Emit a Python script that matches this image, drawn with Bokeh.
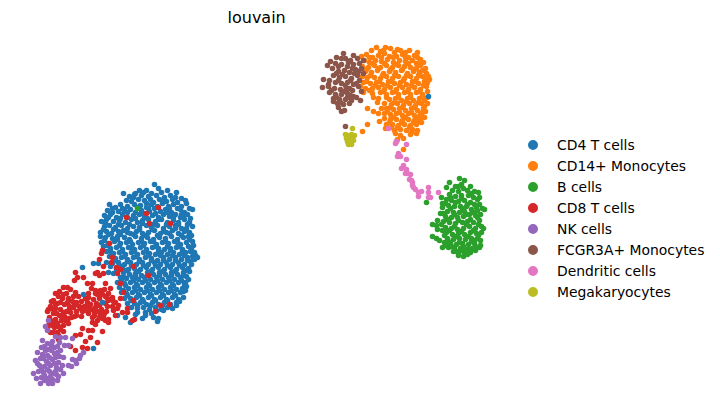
from bokeh.embed import file_html
from bokeh.resources import INLINE
from bokeh.plotting import figure
from bokeh.models import Range1d, Legend, LegendItem

# Values, in the embedding's own units (reference pixels).
categories = ["CD4 T cells", "CD14+ Monocytes", "B cells", "CD8 T cells", "NK cells",
              "FCGR3A+ Monocytes", "Dendritic cells", "Megakaryocytes"]
colors = ["#1f77b4", "#ff7f0e", "#2ca02c", "#d62728", "#9467bd", "#8c564b", "#e377c2", "#bcbd22"]

cd4 = [(135,193),(139,190),(146,190),(154,184),(158,188),(167,190),(151,193),(161,192),(143,192),
(123,193),(129,196),(134,194),(141,195),(148,196),(156,195),(164,197),(170,195),(176,192),(181,198),(172,199),
(126,200),(131,201),(138,199),(144,200),(150,199),(153,202),(159,199),(166,201),(177,202),(185,200),
(109,204),(115,207),(120,204),(127,206),(134,204),(140,205),(146,207),(151,204),(157,206),(162,203),(168,206),(173,204),(181,206),(186,203),
(107,210),(112,208),(118,211),(124,210),(130,209),(135,212),(141,210),(149,211),(154,208),(160,211),(165,209),(171,212),(177,208),(184,212),(189,208),(192,209),
(104,215),(110,214),(116,217),(122,214),(127,217),(133,215),(139,214),(144,217),(152,215),(158,217),(163,214),(169,216),(175,214),(180,217),(187,214),
(101,221),(106,219),(113,221),(119,220),(125,222),(131,219),(137,222),(142,220),(148,219),(155,221),(161,219),(167,222),(173,220),(178,222),(184,219),(190,218),
(104,226),(109,225),(115,227),(121,225),(127,228),(133,226),(139,227),(146,225),(151,227),(157,225),(163,228),(169,226),(175,225),(181,228),(187,224),(192,226),
(100,232),(106,231),(111,233),(118,231),(123,230),(130,233),(136,231),(142,233),(148,232),(154,230),(160,233),(166,232),(172,230),(178,233),(184,231),(189,232),
(100,236),(105,237),(112,238),(117,236),(124,237),(129,239),(135,236),(141,238),(147,237),(153,239),(159,237),(165,238),(171,236),(177,239),(183,237),(188,236),
(101,242),(108,243),(114,241),(120,243),(126,242),(132,244),(138,242),(144,243),(150,241),(156,244),(162,242),(168,243),(174,241),(180,244),(186,242),(192,241),
(103,246),(110,248),(116,247),(122,249),(128,247),(134,249),(140,247),(146,249),(152,247),(158,248),(164,249),(170,248),(176,247),(182,249),(188,246),(193,245),
(106,251),(113,253),(119,252),(125,254),(131,252),(137,254),(143,252),(149,253),(155,254),(161,252),(167,254),(173,252),(179,254),(185,252),(190,251),
(109,256),(115,258),(121,257),(127,259),(133,257),(139,259),(145,257),(151,258),(157,260),(163,257),(169,259),(175,257),(181,259),(187,257),(192,256),(197,257),
(93,263),(98,263),(106,262),(112,263),(118,262),(124,264),(130,262),(136,264),(142,262),(148,264),(154,262),(160,264),(166,262),(172,264),(178,262),(184,264),(190,261),(194,259),
(110,266),(116,268),(122,267),(128,269),(134,268),(140,269),(146,267),(152,269),(158,267),(164,269),(170,267),(176,269),(182,267),(188,268),(191,264),
(108,272),(113,273),(123,272),(129,274),(135,273),(141,275),(147,272),(153,274),(159,272),(165,274),(171,272),(177,274),(183,272),(189,271),
(120,277),(126,278),(132,277),(138,279),(144,277),(150,279),(156,277),(162,279),(168,277),(174,279),(180,277),(186,276),
(117,282),(124,283),(130,282),(136,284),(142,282),(148,284),(154,282),(160,284),(166,282),(172,284),(178,282),(184,284),(188,279),
(119,287),(128,288),(134,287),(140,289),(146,287),(152,289),(158,287),(164,289),(170,287),(176,289),(182,288),(186,286),
(121,292),(126,293),(132,292),(138,294),(144,292),(150,294),(156,292),(162,294),(168,292),(174,294),(180,292),(185,290),
(124,298),(130,298),(136,297),(142,299),(148,297),(154,299),(160,297),(166,299),(172,297),(178,299),(183,297),
(127,303),(134,303),(140,302),(146,304),(152,302),(158,304),(164,302),(170,304),(176,302),
(131,307),(137,308),(143,307),(149,309),(155,307),(161,309),(167,307),(172,308),(176,305),
(137,312),(145,312),(151,313),(156,310),(163,310),
(117,315),(125,317),(130,322),(135,314),(142,318),(145,315),(153,317),(157,321),(158,318)]

cd4_dense = [(133,197),(146,203),(163,200),(175,197),(122,208),(137,207),(148,208),(169,208),(180,209),
(112,212),(127,212),(143,213),(155,213),(167,212),(181,214),(108,217),(120,218),(135,218),(147,218),(159,219),(173,217),(183,217),
(105,223),(118,224),(129,224),(142,223),(153,224),(166,224),(178,224),(189,222),
(103,229),(113,229),(127,232),(139,229),(152,229),(163,231),(175,228),(186,228),
(108,234),(120,234),(133,234),(145,235),(157,235),(169,233),(181,235),(191,235),
(104,240),(117,239),(130,241),(141,241),(153,241),(165,241),(177,242),(189,239),
(107,245),(119,245),(131,247),(143,245),(155,246),(167,246),(179,246),(191,249),
(110,251),(122,251),(134,251),(146,251),(158,251),(170,250),(182,251),(194,252),
(112,255),(124,256),(136,256),(148,255),(160,255),(172,255),(184,255),(195,255),
(115,260),(127,261),(139,261),(151,260),(163,260),(175,260),(187,260),
(119,265),(131,265),(143,265),(155,265),(167,265),(179,265),
(116,271),(126,270),(138,271),(150,271),(162,271),(174,271),(186,270),
(123,276),(135,276),(147,275),(159,275),(171,275),(183,275),
(121,280),(133,280),(145,280),(157,280),(169,280),(181,280),
(125,285),(137,285),(149,285),(161,285),(173,285),(185,282),
(123,290),(135,290),(147,290),(159,290),(171,290),(183,291),
(127,295),(139,295),(151,295),(163,295),(175,295),
(131,300),(143,301),(155,300),(167,300),(179,301),(137,305),(150,305),(162,305)]

cd14 = [(385,47),(390,48),(371,50),(380,51),(394,52),(397,49),(405,52),(409,50),(376,47),
(361,56),(366,54),(372,57),(378,55),(384,53),(389,56),(396,56),(402,54),(408,57),(414,55),(420,59),(417,52),
(364,60),(369,62),(375,60),(381,61),(387,59),(393,62),(399,60),(405,61),(412,60),(416,63),(423,62),
(362,66),(368,67),(374,65),(380,67),(386,65),(392,67),(398,65),(404,66),(410,67),(416,68),(425,68),(420,65),
(365,71),(371,72),(377,70),(383,73),(389,71),(395,72),(401,70),(407,73),(413,71),(419,72),(426,73),
(362,76),(367,77),(374,77),(380,78),(386,76),(392,78),(398,76),(404,78),(410,76),(416,78),(422,76),(428,76),
(363,82),(370,83),(376,82),(382,84),(388,81),(394,83),(400,82),(406,84),(412,81),(418,83),(424,81),(429,79),
(360,86),(365,88),(372,88),(378,87),(384,89),(390,87),(396,89),(402,87),(408,89),(414,87),(420,89),(426,86),
(363,92),(372,93),(380,92),(386,94),(392,92),(398,94),(404,92),(410,94),(416,92),(422,94),(427,91),
(373,97),(378,98),(389,99),(395,98),(401,100),(407,98),(413,100),(419,98),(424,100),(427,97),
(377,102),(384,103),(391,104),(397,103),(403,105),(409,103),(415,105),(421,103),(427,103),
(367,108),(381,108),(386,108),(393,109),(399,108),(405,110),(411,108),(417,110),(423,108),(425,111),
(373,111),(378,113),(384,113),(390,114),(396,113),(402,115),(408,113),(414,115),(420,114),
(384,118),(390,119),(396,119),(402,120),(408,119),(414,120),(420,119),(424,117),
(379,121),(386,124),(392,124),(398,125),(404,124),(410,125),(416,124),(421,122),
(385,128),(394,130),(400,129),(406,130),(412,129),(417,130),(410,134),(416,133),
(367,124),(362,131),(403,138),(395,133),(397,139),(396,141),(403,149),(411,132),(400,135)]

cd14_dense = [(383,50),(400,50),(369,57),(381,57),(393,57),(405,57),(417,57),(372,63),(384,63),(396,64),(408,63),(419,62),
(366,69),(378,68),(390,69),(402,69),(414,69),(422,70),(370,75),(382,75),(394,75),(406,75),(418,75),(425,78),
(366,81),(379,81),(391,81),(403,80),(415,81),(427,82),(375,85),(387,85),(399,85),(411,85),(423,85),
(369,90),(383,91),(395,91),(407,91),(419,91),(386,97),(398,97),(410,97),(422,97),(394,102),(406,101),(418,102),
(390,107),(402,107),(414,107),(424,106),(387,111),(399,112),(411,112),(422,112),(393,117),(405,117),(417,117),
(389,122),(401,122),(413,122),(418,121),(397,127),(409,127),(391,127)]

bcells = [(459,178),(464,180),(449,182),(446,187),(470,186),(455,186),(461,184),(467,190),
(452,190),(458,191),(463,188),(474,191),(478,192),(449,194),(455,196),(461,195),(468,195),(473,197),
(441,197),(446,199),(451,200),(458,201),(464,200),(470,202),(477,199),(479,197),
(442,203),(448,205),(454,206),(460,206),(466,206),(474,204),(479,204),(482,208),
(442,207),(447,211),(453,212),(459,212),(464,211),(471,209),(477,210),(484,209),
(440,213),(445,216),(451,217),(457,217),(463,216),(469,214),(475,215),(480,214),
(437,220),(443,221),(449,222),(455,223),(462,222),(467,221),(473,222),(479,220),
(432,224),(436,225),(445,227),(451,228),(457,229),(463,228),(469,226),(475,228),(481,226),(483,228),
(437,229),(446,232),(452,234),(458,233),(464,234),(470,232),(476,233),(481,232),
(432,236),(436,238),(447,238),(453,239),(459,238),(465,239),(471,238),(477,238),
(439,240),(444,242),(450,243),(456,244),(462,243),(468,244),(474,243),(480,240),
(442,247),(448,247),(454,248),(460,248),(466,249),(472,248),(480,245),(479,247),
(453,251),(458,252),(464,253),(470,252),(475,250),(458,255),(463,256),(467,254),(461,250)]

bcells_dense = [(458,186),(450,197),(461,198),(471,193),(445,203),(455,202),(467,204),(476,207),(450,208),(462,208),(473,212),
(443,213),(454,214),(466,214),(477,217),(447,219),(458,220),(470,219),(441,224),(454,226),(466,224),(478,224),
(442,230),(449,230),(461,231),(473,230),(478,235),(444,235),(456,236),(468,236),(474,240),(448,241),(459,242),(471,241),
(445,245),(451,246),(463,246),(475,246),(456,251),(469,249)]

cd8 = [(102,250),(101,253),(99,259),(103,266),(111,262),(116,267),(120,269),(117,273),(103,273),(97,272),(99,275),(95,273),
(75,272),(83,277),(74,280),(77,277),(87,283),(92,283),(105,283),(100,290),(95,290),(110,288),(88,297),(63,287),(67,287),
(55,293),(53,300),(48,309),(50,320),(48,325),(53,332),(57,332),(58,339),(70,346),(75,350),(82,347),(87,348),(97,342),
(90,337),(88,330),(82,328),(80,334),(75,335),(85,341),(102,331),(92,330),
(59,291),(66,293),(70,289),(75,292),(91,288),(97,294),(104,289),(108,293),
(58,296),(62,298),(68,298),(72,301),(78,296),(87,302),(93,299),(99,298),(105,296),(112,297),
(51,301),(57,303),(64,304),(69,306),(76,302),(81,301),(85,298),(90,304),(96,303),(102,302),(108,300),(113,301),
(50,306),(55,308),(60,309),(66,311),(73,307),(79,306),(84,306),(91,309),(95,307),(101,309),(107,306),(112,306),
(47,311),(53,313),(59,315),(64,316),(70,312),(76,311),(82,311),(88,313),(94,312),(100,314),(106,311),
(49,317),(55,319),(61,320),(68,318),(74,316),(81,316),(92,317),(97,320),(103,316),(108,319),
(52,322),(57,323),(63,325),(68,323),(92,322),(95,324),(102,318),(108,322),
(47,328),(54,327),(60,329),(50,332),(58,335),(63,331),
(117,308),(113,310),(118,305),(127,308),(127,312),(122,312),(115,315),(132,320),(134,319),(123,292),(133,300),(120,298),(115,302),(120,283),
(126,217),(146,213),(158,207),(149,223),(170,223),(133,266),(148,275),(160,305),(169,304),(155,311),(112,257),(109,243)]

cd8_dense = [(63,294),(73,296),(55,304),(60,302),(67,302),(74,305),(80,308),(53,309),(63,312),(69,309),(76,315),
(56,313),(62,318),(71,317),(52,325),(58,326),(65,320),(88,293),(95,293),(102,294),(107,298),(89,306),(99,305),(105,303),
(86,310),(97,311),(104,313),(94,315),(99,317),(105,320)]

nk = [(48,320),(45,326),(47,330),(55,336),(60,337),(65,337),(72,338),(42,340),(47,343),(52,341),(59,342),(64,345),(68,345),
(37,352),(41,347),(48,349),(54,347),(60,350),(42,354),(47,355),(54,353),(59,356),(63,357),
(35,360),(40,358),(46,361),(52,359),(58,362),(39,365),(44,366),(50,365),(56,367),(62,365),
(33,373),(38,371),(43,372),(49,371),(53,373),(63,373),(41,377),(46,378),(52,379),(58,376),
(40,383),(44,380),(48,383),(52,383),(57,380),(36,378),
(83,352),(80,355),(75,360),(72,359),(68,365),(71,366),(76,363),(79,358)]

nk_dense = [(44,346),(51,345),(57,346),(45,350),(51,350),(57,352),(43,358),(49,357),(55,357),(37,363),(48,363),(54,363),
(41,369),(47,369),(55,371),(60,369),(44,375),(50,376),(56,374),(49,381)]

fcgr = [(343,53),(353,55),(330,61),(327,65),(336,57),(345,58),(350,60),(363,60),(357,58),
(332,68),(335,63),(341,64),(347,66),(353,64),(359,63),(338,71),(344,70),(349,72),(355,69),(361,68),
(333,75),(339,77),(345,76),(351,78),(357,75),(363,73),(323,79),(329,80),(335,82),(341,83),(347,82),(353,84),(359,80),
(322,87),(328,86),(334,88),(340,89),(346,88),(352,90),(358,86),(329,92),(335,94),(341,94),(347,93),(353,96),(361,91),
(333,98),(339,99),(345,99),(351,100),(356,97),(360,100),(337,103),(343,104),(349,103),(338,107),(341,111),(344,110),(333,101)]

fcgr_dense = [(341,58),(348,62),(338,66),(352,68),(358,71),(336,73),(342,74),(354,73),(328,84),(338,80),(350,80),(345,85),
(356,83),(331,90),(343,91),(349,88),(336,97),(347,97),(340,102),(350,95)]

dendritic = [(395,143),(406,144),(398,153),(400,156),(397,156),(406,159),(403,165),(401,168),(406,169),(407,173),(405,173),
(410,174),(409,179),(412,182),(412,185),(415,189),(418,192),(421,191),(418,196),(428,187),(428,192),(428,197),(430,197),(438,192),
(388,128),(396,141),(411,180),(413,187)]

mega = [(352,128),(345,134),(347,135),(351,134),(354,135),(346,138),(349,137),(352,138),(347,141),(350,141),(353,140),(348,144),(351,144)]

brown_extra = [(345,126)]
cd4_on_top = [(428,96),(82,267),(83,294),(102,302),(93,348)]
bcells_extra = [(426,202),(137,208)]

series = [cd4 + cd4_dense, cd14 + cd14_dense, bcells + bcells_dense + bcells_extra, cd8 + cd8_dense,
          nk + nk_dense, fcgr + fcgr_dense + brown_extra, dendritic, mega]

p = figure(width=712, height=403, output_backend="svg", toolbar_location=None,
           x_range=Range1d(0, 712), y_range=Range1d(403, 31),
           title="louvain", min_border=0, min_border_left=0, min_border_right=0,
           min_border_top=0, min_border_bottom=0, outline_line_color=None)
p.axis.visible = False
p.grid.visible = False
p.title.text_font = "DejaVu Sans"
p.title.text_font_size = "16px"
p.title.text_font_style = "normal"
p.title.text_color = "#000000"
p.title.align = "left"
p.title.offset = 227

items = []
for name, col, pts in zip(categories, colors, series):
    r = p.scatter([a for a, b in pts], [b for a, b in pts], size=4, fill_color=col,
                  line_color=col, line_width=1.6)
    items.append(LegendItem(label=name, renderers=[r]))
p.scatter([a for a, b in cd4_on_top], [b for a, b in cd4_on_top], size=4, fill_color=colors[0],
          line_color=colors[0], line_width=1.6)

legend = Legend(items=items, location=(520, 101), orientation="vertical",
                glyph_width=25, glyph_height=21, spacing=0, label_standoff=12,
                label_text_font="DejaVu Sans", label_text_font_size="13.9px",
                label_text_color="#000000", border_line_color=None,
                background_fill_alpha=0, padding=0, margin=0)
p.add_layout(legend)

open("out.html", "w").write(file_html(p, INLINE))
